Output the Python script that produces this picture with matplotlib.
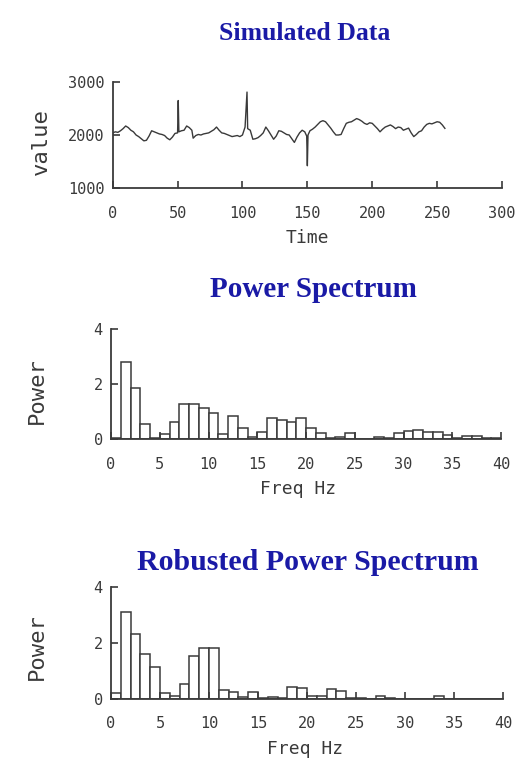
import matplotlib
matplotlib.use('Agg')
import matplotlib.pyplot as plt
import numpy as np

# Simulated time series
time = [0, 2, 4, 6, 8, 10, 12, 14, 16, 18, 20, 22, 24, 26, 28, 30, 32, 34, 36, 38,
        40, 42, 44, 46, 48, 50, 50.5, 51, 53, 55, 57, 59, 61, 62, 64, 66, 68, 70, 72,
        74, 76, 78, 80, 82, 84, 86, 88, 90, 92, 94, 96, 98, 100, 102, 103.5, 104, 106,
        108, 110, 112, 114, 116, 118, 120, 122, 124, 126, 128, 130, 132, 134, 136,
        138, 140, 142, 144, 146, 148, 149.5, 150, 150.5, 152, 154, 156, 158, 160,
        162, 164, 166, 168, 170, 172, 174, 176, 178, 180, 182, 184, 186, 188, 190,
        192, 194, 196, 198, 200, 202, 204, 206, 208, 210, 212, 214, 216, 218, 220,
        222, 224, 226, 228, 230, 232, 234, 236, 238, 240, 242, 244, 246, 248, 250,
        252, 254, 256]
value = [2040, 2060, 2050, 2080, 2120, 2170, 2140, 2090, 2060, 2000, 1970, 1930, 1890,
         1900, 1980, 2080, 2060, 2040, 2020, 2010, 1990, 1940, 1910, 1960, 2030, 2040,
         2650, 2060, 2080, 2090, 2170, 2140, 2090, 1940, 1990, 2010, 2000, 2020, 2030,
         2040, 2070, 2100, 2150, 2090, 2040, 2030, 2010, 1990, 1970, 1980, 1990, 1970,
         2000, 2150, 2810, 2120, 2090, 1920, 1930, 1950, 1990, 2040, 2150, 2080, 2000,
         1920, 1980, 2080, 2070, 2040, 2010, 2000, 1930, 1860, 1960, 2040, 2090, 2060,
         1980, 1420, 2000, 2080, 2110, 2150, 2200, 2250, 2270, 2250, 2190, 2130, 2060,
         2000, 2000, 2010, 2120, 2220, 2240, 2250, 2280, 2310, 2290, 2260, 2220, 2200,
         2230, 2220, 2170, 2120, 2060, 2110, 2150, 2170, 2190, 2160, 2120, 2150, 2140,
         2090, 2110, 2130, 2040, 1970, 2010, 2060, 2080, 2150, 2200, 2220, 2210, 2230,
         2250, 2240, 2190, 2125]

# Spectra, 1 Hz bins starting at 0
freq = np.arange(40)
power = [0.05, 2.82, 1.85, 0.56, 0.05, 0.2, 0.64, 1.3, 1.3, 1.13,
         0.95, 0.2, 0.86, 0.4, 0.1, 0.28, 0.76, 0.7, 0.62, 0.76,
         0.4, 0.22, 0.05, 0.1, 0.22, 0.0, 0.0, 0.1, 0.03, 0.22,
         0.32, 0.34, 0.28, 0.28, 0.15, 0.05, 0.12, 0.12, 0.03, 0.03]
robust_power = [0.23, 3.13, 2.32, 1.61, 1.16, 0.23, 0.1, 0.54, 1.54, 1.81,
                1.81, 0.32, 0.24, 0.08, 0.26, 0.02, 0.08, 0.02, 0.44, 0.38,
                0.1, 0.1, 0.36, 0.3, 0.02, 0.02, 0.0, 0.1, 0.02, 0.01,
                0.01, 0.01, 0.01, 0.1, 0.01, 0.01, 0.01, 0.01, 0.01, 0.01]

TITLE_COLOR = '#1a1aa6'
INK = '#3a3a3a'
MONO = 'DejaVu Sans Mono'
W, H = 518, 758


def px_axes(fig, x0, x1, ytop, ybot):
    return fig.add_axes([x0 / W, 1 - ybot / H, (x1 - x0) / W, (ybot - ytop) / H])


def style_axes(ax, xpad):
    for side in ('top', 'right'):
        ax.spines[side].set_visible(False)
    for side in ('left', 'bottom'):
        ax.spines[side].set_color(INK)
        ax.spines[side].set_linewidth(1.3)
    ax.tick_params(axis='both', direction='in', length=5, width=1.2, color=INK,
                   labelcolor=INK, labelsize=11)
    ax.tick_params(axis='x', pad=xpad)
    ax.tick_params(axis='y', pad=6)
    for lab in ax.get_xticklabels() + ax.get_yticklabels():
        lab.set_family(MONO)
    ax.patch.set_alpha(0)


def add_labels(ax, xlabel, ylabel, xlab_pos, ylab_pos):
    ax.set_xlabel(xlabel, family=MONO, size=13, color=INK)
    ax.set_ylabel(ylabel, family=MONO, size=16, color=INK)
    ax.xaxis.set_label_coords(*xlab_pos)
    ax.yaxis.set_label_coords(*ylab_pos)


fig = plt.figure(figsize=(W / 100, H / 100), dpi=100)

# Simulated data
fig.text(305 / W, 1 - 33 / H, 'Simulated Data', ha='center', va='center',
         family='Liberation Serif', weight='bold', size=18.5, color=TITLE_COLOR)
ax1 = px_axes(fig, 112.7, 502, 82, 188)
ax1.plot(time, value, color=INK, linewidth=1.0)
ax1.set_xlim(0, 300)
ax1.set_ylim(1000, 3000)
ax1.set_xticks(range(0, 301, 50))
ax1.set_yticks([1000, 2000, 3000])
style_axes(ax1, 13)
add_labels(ax1, 'Time', 'value', (0.499, -0.39), (-0.158, 0.44))

# Power spectrum
fig.text(313 / W, 1 - 290 / H, 'Power Spectrum', ha='center', va='center',
         family='Liberation Serif', weight='bold', size=21, color=TITLE_COLOR)
ax2 = px_axes(fig, 111, 501, 329.3, 439.3)
ax2.bar(freq, power, width=1, align='edge', facecolor='white',
        edgecolor=INK, linewidth=1.1)
ax2.set_xlim(0, 40)
ax2.set_ylim(0, 4)
ax2.set_xticks(range(0, 41, 5))
ax2.set_yticks([0, 2, 4])
style_axes(ax2, 13)
add_labels(ax2, 'Freq Hz', 'Power', (0.48, -0.37), (-0.164, 0.44))

# Robusted power spectrum
fig.text(308 / W, 1 - 562 / H, 'Robusted Power Spectrum', ha='center', va='center',
         family='Liberation Serif', weight='bold', size=21.5, color=TITLE_COLOR)
ax3 = px_axes(fig, 111, 503, 587.3, 699)
ax3.bar(freq, robust_power, width=1, align='edge', facecolor='white',
        edgecolor=INK, linewidth=1.1)
ax3.set_xlim(0, 40)
ax3.set_ylim(0, 4)
ax3.set_xticks(range(0, 41, 5))
ax3.set_yticks([0, 2, 4])
style_axes(ax3, 12)
add_labels(ax3, 'Freq Hz', 'Power', (0.495, -0.367), (-0.164, 0.466))

fig.savefig('out.png', dpi=100)
